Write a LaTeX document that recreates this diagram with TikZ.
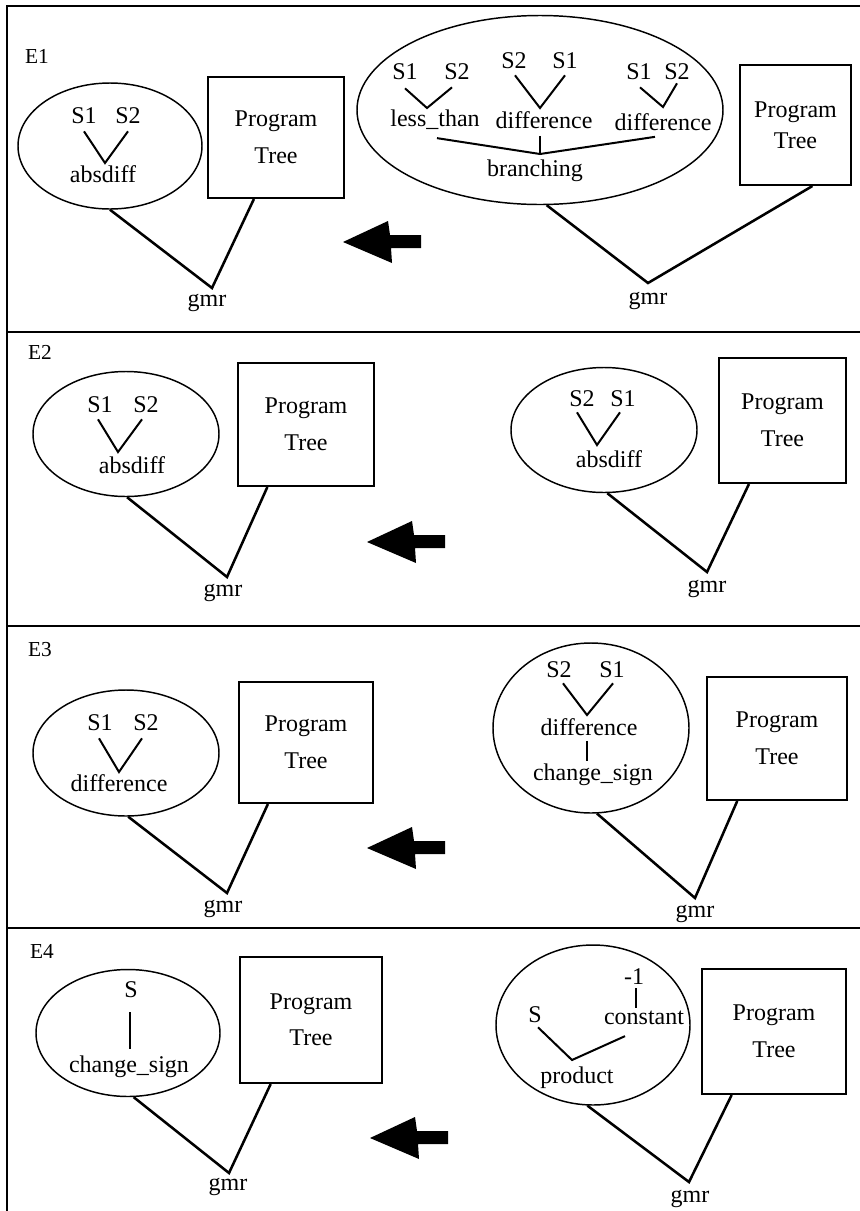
\documentclass[tikz,border=0pt]{standalone}
\usepackage{fontspec}
\setmainfont{Liberation Serif}
\usetikzlibrary{shapes.geometric,calc}
\begin{document}
\begin{tikzpicture}[x=0.75pt,y=-0.75pt,
  txt/.style={inner sep=0pt, font=\fontsize{18}{20}\selectfont},
  elab/.style={inner sep=0pt, font=\fontsize{16}{18}\selectfont},
  gm/.style={inner sep=0pt, anchor=north, font=\fontsize{18}{20}\selectfont},
  oval/.style 2 args={draw, ellipse, line width=1.1pt, inner sep=0pt,
    minimum width=#1*0.75pt, minimum height=#2*0.75pt},
  pbox/.style n args={3}{draw, rectangle, line width=1.5pt, inner sep=0pt,
    minimum width=#1*0.75pt, minimum height=#2*0.75pt, align=center,
    font=\fontsize{18}{#3}\selectfont},
  twig/.style={line width=1.5pt},
  stem/.style={line width=1.9pt},
  rule/.style={line width=1.5pt},
  bigarrow/.pic={\fill[black] (0,0) -- (45,-21) -- (47,-7) -- (78,-7) -- (78,6) -- (48,6) -- (49,21) -- cycle;}
]
\useasboundingbox (0,0) rectangle (860,1211);
\fill[white] (0,0) rectangle (860,1211);

% outer frame and panel separators
\draw[rule] (860,6) -- (7,6) -- (7,1211);
\draw[rule] (7,332) -- (860,332);
\draw[rule] (7,626) -- (860,626);
\draw[rule] (7,928) -- (860,928);

% ================= E1 =================
\node[elab] (e1) at (37,56) {E1};
% left side
\node[oval={184}{126}] (o1l) at (110,146) {};
\node[txt] (o1l-a) at (84,116) {S1};
\node[txt] (o1l-b) at (128,116) {S2};
\node[txt] (o1l-f) at (103,174) {absdiff};
\coordinate (o1l-v) at (105,163);
\draw[twig] ($(o1l-a.south)+(0,7)$) -- (o1l-v) -- ($(o1l-b.south)+(0,7)$);
\node[pbox={136}{121}{28}] (b1l) at (276,137.5) {Program\\Tree};
\coordinate (g1l) at (212,288);
\node[gm] (t1l) at (207,294) {gmr};
\draw[stem] (o1l.south) -- (g1l) -- ($(b1l.south west)!0.34!(b1l.south east)$);
% arrow
\pic at (343,242) {bigarrow};
% right side
\node[oval={366}{189}] (o1r) at (540,110) {};
\node[txt] (o1r-a1) at (405,72) {S1};
\node[txt] (o1r-a2) at (457,72) {S2};
\node[txt] (o1r-lt) at (435,120) {less\_than};
\coordinate (o1r-av) at (427,108);
\draw[twig] ($(o1r-a1.south)+(0,8)$) -- (o1r-av) -- ($(o1r-a2.south)+(-5,7)$);
\node[txt] (o1r-b1) at (514,61) {S2};
\node[txt] (o1r-b2) at (565,61) {S1};
\node[txt] (o1r-d1) at (544,120) {difference};
\coordinate (o1r-bv) at (540,108);
\draw[twig] ($(o1r-b1.south)+(1,6)$) -- (o1r-bv) -- ($(o1r-b2.south)+(0,6)$);
\node[txt] (o1r-c1) at (639,72) {S1};
\node[txt] (o1r-c2) at (677,72) {S2};
\node[txt] (o1r-d2) at (663,122) {difference};
\coordinate (o1r-cv) at (663,107);
\draw[twig] ($(o1r-c1.south)+(1,7)$) -- (o1r-cv) -- ($(o1r-c2.south)+(0,3)$);
\node[txt] (o1r-br) at (535,171) {branching};
\coordinate (o1r-j) at (540,154);
\draw[twig] ($(o1r-lt.south)+(2,8)$) -- (o1r-j) -- ($(o1r-d2.south)+(-8,6)$);
\draw[twig] ($(o1r-d1.south)+(-4,7)$) -- (o1r-j);
\node[pbox={111}{120}{23}] (b1r) at (795.5,125) {Program\\Tree};
\coordinate (g1r) at (648,283);
\node[gm] (t1r) at (648,292) {gmr};
\draw[stem] (o1r.-86) -- (g1r) -- ($(b1r.south west)!0.65!(b1r.south east)$);

% ================= E2 =================
\node[elab] (e2) at (40,352) {E2};
% left side
\node[oval={186}{125}] (o2l) at (126,434) {};
\node[txt] (o2l-a) at (100,405) {S1};
\node[txt] (o2l-b) at (146,405) {S2};
\node[txt] (o2l-f) at (132,465) {absdiff};
\coordinate (o2l-v) at (118,452);
\draw[twig] ($(o2l-a.south)+(-2,6)$) -- (o2l-v) -- ($(o2l-b.south)+(-4,6)$);
\node[pbox={136}{123}{28}] (b2l) at (306,424.5) {Program\\Tree};
\coordinate (g2l) at (227,577);
\node[gm] (t2l) at (223,584) {gmr};
\draw[stem] (o2l.-89) -- (g2l) -- ($(b2l.south west)!0.22!(b2l.south east)$);
% arrow
\pic at (367,542) {bigarrow};
% right side
\node[oval={186}{125}] (o2r) at (604,430) {};
\node[txt] (o2r-a) at (582,399) {S2};
\node[txt] (o2r-b) at (623,399) {S1};
\node[txt] (o2r-f) at (609,459) {absdiff};
\coordinate (o2r-v) at (597,445);
\draw[twig] ($(o2r-a.south)+(-5,5)$) -- (o2r-v) -- ($(o2r-b.south)+(-3,5)$);
\node[pbox={127}{125}{28}] (b2r) at (782.5,420.5) {Program\\Tree};
\coordinate (g2r) at (707,572);
\node[gm] (t2r) at (707,580) {gmr};
\draw[stem] (o2r.-87) -- (g2r) -- ($(b2r.south west)!0.24!(b2r.south east)$);

% ================= E3 =================
\node[elab] (e3) at (40,650) {E3};
% left side
\node[oval={186}{126}] (o3l) at (126,753) {};
\node[txt] (o3l-a) at (100,723) {S1};
\node[txt] (o3l-b) at (146,723) {S2};
\node[txt] (o3l-f) at (119,783) {difference};
\coordinate (o3l-v) at (119,772);
\draw[twig] ($(o3l-a.south)+(-1,7)$) -- (o3l-v) -- ($(o3l-b.south)+(-4,7)$);
\node[pbox={134}{121}{28}] (b3l) at (306,742.5) {Program\\Tree};
\coordinate (g3l) at (227,893);
\node[gm] (t3l) at (223,900) {gmr};
\draw[stem] (o3l.-88) -- (g3l) -- ($(b3l.south west)!0.22!(b3l.south east)$);
% arrow
\pic at (367,848) {bigarrow};
% right side
\node[oval={196}{170}] (o3r) at (591,728) {};
\node[txt] (o3r-a) at (559,670) {S2};
\node[txt] (o3r-b) at (612,670) {S1};
\node[txt] (o3r-d) at (589,727) {difference};
\node[txt] (o3r-c) at (593,775) {change\_sign};
\coordinate (o3r-v) at (587,715);
\draw[twig] ($(o3r-a.south)+(4,5)$) -- (o3r-v) -- ($(o3r-b.south)+(1,5)$);
\draw[twig] ($(o3r-d.south)+(-2,5)$) -- ($(o3r-d.south)+(-2,25)$);
\node[pbox={140}{123}{28}] (b3r) at (777,738.5) {Program\\Tree};
\coordinate (g3r) at (695,898);
\node[gm] (t3r) at (695,905) {gmr};
\draw[stem] (o3r.-86) -- (g3r) -- ($(b3r.south west)!0.22!(b3r.south east)$);

% ================= E4 =================
\node[elab] (e4) at (42,951) {E4};
% left side
\node[oval={184}{127}] (o4l) at (128,1033) {};
\node[txt] (o4l-s) at (131,990) {S};
\node[txt] (o4l-c) at (129,1067) {change\_sign};
\draw[twig] ($(o4l-s.south)+(-1,14)$) -- ($(o4l-c.north)+(1,-7)$);
\node[pbox={142}{126}{27}] (b4l) at (311,1020) {Program\\Tree};
\coordinate (g4l) at (229,1173);
\node[gm] (t4l) at (228,1178) {gmr};
\draw[stem] (o4l.-85) -- (g4l) -- ($(b4l.south west)!0.22!(b4l.south east)$);
% arrow
\pic at (370,1138) {bigarrow};
% right side
\node[oval={194}{160}] (o4r) at (593,1025) {};
\node[txt] (o4r-m) at (634,977) {-1};
\node[txt] (o4r-k) at (644,1018) {constant};
\node[txt] (o4r-s) at (535,1015) {S};
\node[txt] (o4r-p) at (577,1078) {product};
\coordinate (o4r-v) at (572,1060);
\draw[twig] ($(o4r-m.south)+(2,3)$) -- ($(o4r-m.south)+(2,23)$);
\draw[twig] ($(o4r-s.south)+(3,4)$) -- (o4r-v) -- ($(o4r-k.south)+(-19,11)$);
\node[pbox={144}{125}{28}] (b4r) at (774,1031.5) {Program\\Tree};
\coordinate (g4r) at (689,1182);
\node[gm] (t4r) at (690,1190) {gmr};
\draw[stem] (o4r.-94) -- (g4r) -- ($(b4r.south west)!0.21!(b4r.south east)$);
\end{tikzpicture}
\end{document}
